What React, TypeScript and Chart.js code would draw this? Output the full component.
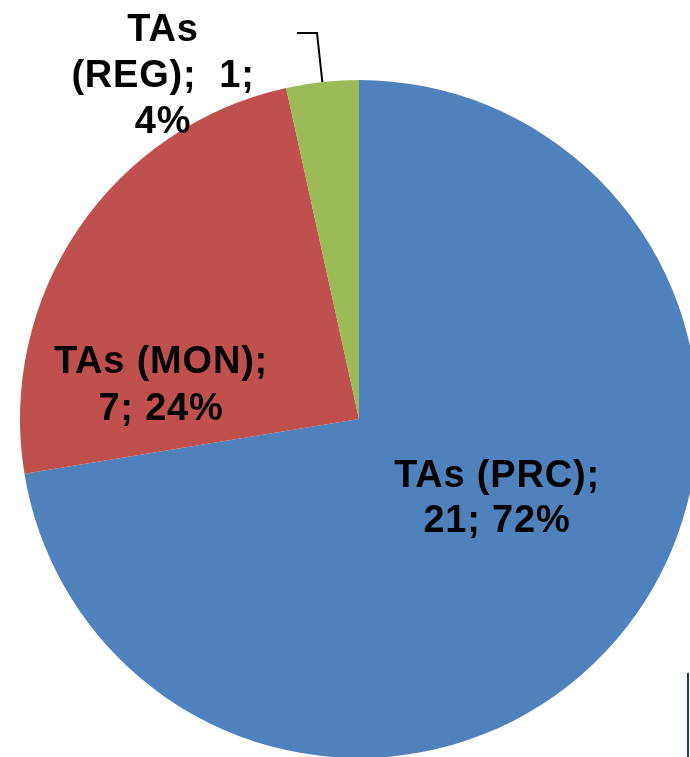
import React, { useEffect, useRef } from "react";
import { Chart, registerables } from "chart.js";

Chart.register(...registerables);

const categories = ["TAs (PRC)", "TAs (MON)", "TAs (REG)"];
const values = [21, 7, 1];
const percentLabels = ["72%", "24%", "4%"];
const colors = ["#4F81BD", "#C0504D", "#9BBB59"];
const labelLines = [
  ["TAs (PRC);", "21; 72%"],
  ["TAs (MON);", "7; 24%"],
  ["TAs", "(REG);  1;", "4%"],
];

const CW = 718;
const CH = 838;

const labelPlugin = {
  id: "sliceLabels",
  afterDraw(chart: any, _args: any, opts: any) {
    const ctx = chart.ctx;
    const meta = chart.getDatasetMeta(0);
    const arc0 = meta.data[0] as any;
    const cx = arc0.x;
    const cy = arc0.y;
    ctx.save();
    ctx.fillStyle = "#000";
    ctx.font = "bold 38px 'Liberation Sans', Arial, sans-serif";
    try {
      (ctx as any).letterSpacing = "0.8px";
    } catch (e) {}
    ctx.textAlign = "center";
    ctx.textBaseline = "alphabetic";
    opts.placements.forEach((p: any, i: number) => {
      const lines = labelLines[i];
      lines.forEach((ln: string, j: number) => {
        ctx.fillText(ln, cx + p.dx, cy + p.dy + j * p.lh);
      });
    });
    // leader line for the small slice
    const arc = meta.data[2] as any;
    const mid = (arc.startAngle + arc.endAngle) / 2;
    const ex = arc.x + Math.cos(mid) * arc.outerRadius;
    const ey = arc.y + Math.sin(mid) * arc.outerRadius;
    ctx.strokeStyle = "#000";
    ctx.lineWidth = 2;
    ctx.beginPath();
    ctx.moveTo(ex, ey);
    ctx.lineTo(cx - 42, cy - 386);
    ctx.lineTo(cx - 62, cy - 386);
    ctx.stroke();
    ctx.restore();
  },
};

export default function App() {
  const ref = useRef<HTMLCanvasElement>(null);
  useEffect(() => {
    if (!ref.current) return;
    const chart = new Chart(ref.current, {
      type: "pie",
      data: {
        labels: categories,
        datasets: [
          {
            data: values,
            backgroundColor: colors,
            borderWidth: 0,
          },
        ],
      },
      options: {
        responsive: false,
        animation: false,
        layout: { padding: { left: 20, right: 20, top: 80, bottom: 80 } },
        plugins: {
          legend: { display: false },
          tooltip: { enabled: false },
          sliceLabels: {
            placements: [
              { dx: 138, dy: 68, lh: 45 },
              { dx: -198, dy: -46, lh: 47 },
              { dx: -196, dy: -378, lh: 46 },
            ],
          },
        } as any,
      },
      plugins: [labelPlugin],
    });
    return () => chart.destroy();
  }, []);
  return (
    <div
      style={{
        position: "fixed",
        left: 0,
        top: 0,
        width: 690,
        height: 757,
        overflow: "hidden",
        background: "#fff",
      }}
    >
      <canvas ref={ref} width={CW} height={CH} style={{ width: CW, height: CH, display: "block" }} />
      <div
        style={{
          position: "absolute",
          left: 687,
          top: 673,
          width: 2,
          height: 84,
          background: "#1F3A60",
        }}
      />
    </div>
  );
}
